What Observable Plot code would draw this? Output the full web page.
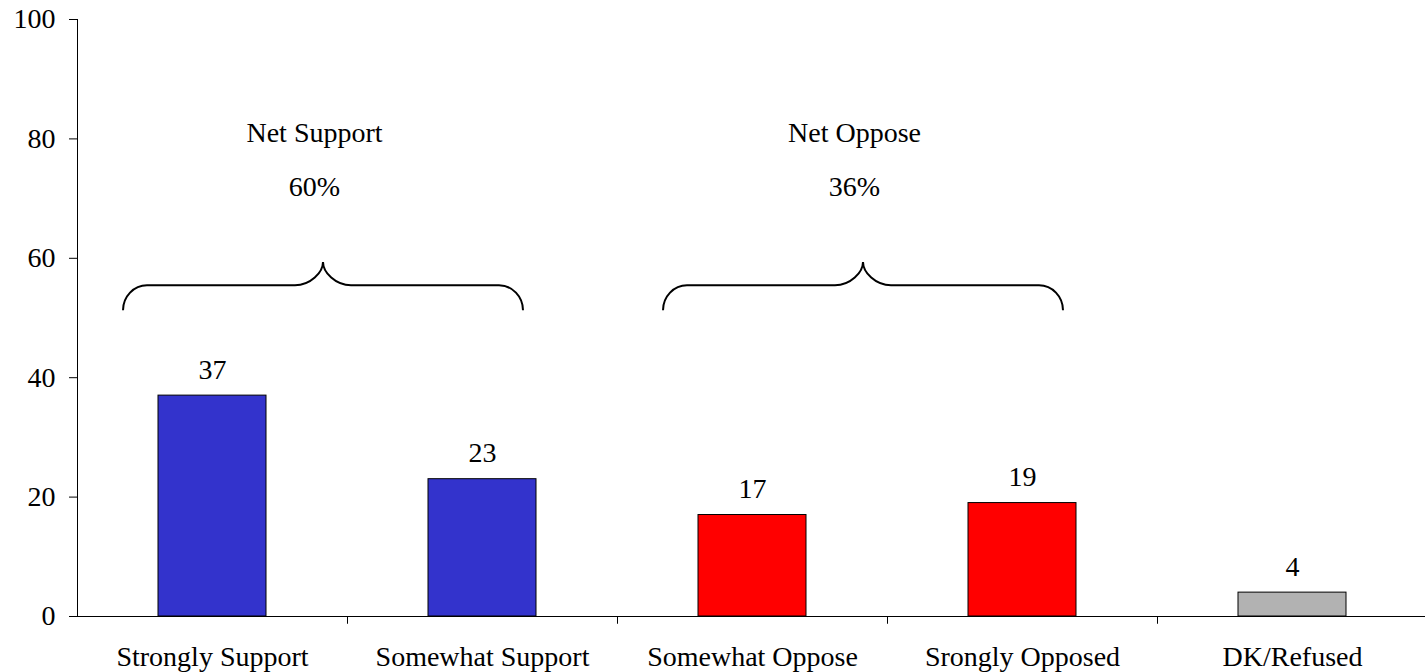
<!DOCTYPE html>
<html><head><meta charset="utf-8">
<script src="https://cdn.jsdelivr.net/npm/d3@7"></script>
<script src="https://cdn.jsdelivr.net/npm/@observablehq/plot@0.6"></script>
<style>html,body{margin:0;padding:0;background:#fff} svg{display:block}</style>
</head><body><div id="chart"></div>
<script>
const categories = ["Strongly Support","Somewhat Support","Somewhat Oppose","Srongly Opposed","DK/Refused"];
const values = [37, 23, 17, 19, 4];
const colors = ["#3333CC","#3333CC","#FF0000","#FF0000","#B2B2B2"];
const groupLabels = ["Net Support","Net Oppose"];
const groupTotals = ["60%","36%"];
const groupFrom = ["Strongly Support","Somewhat Oppose"];
const groupTo = ["Somewhat Support","Srongly Opposed"];
const yTicks = [0, 20, 40, 60, 80, 100];

const data = categories.map((c, i) => ({category: c, value: values[i]}));
const groups = groupLabels.map((g, i) => ({label: g, total: groupTotals[i], from: groupFrom[i], to: groupTo[i]}));

function braces(index, scales, values, dims) {
  const g = d3.create("svg:g");
  const x = scales.x, y = scales.y, bw = x.bandwidth();
  const yb = y(51.2), yh = y(55.4), yp = y(59.3);
  const k = 0.55;
  for (const d of groups) {
    const xa = x(d.from) + bw / 2, xb = x(d.to) + bw / 2;
    const P = (xa + xb) / 2 - 24;
    const L = P - 200, R = P + 200, r1 = 24, r2 = 28;
    const path = `M${L},${yb} C${L},${yb - k*(yb-yh)} ${L + r1 - k*r1},${yh} ${L + r1},${yh}`
      + ` L${P - r2},${yh} C${P - r2 + k*r2},${yh} ${P},${yh - k*(yh-yp)} ${P},${yp}`
      + ` C${P},${yh - k*(yh-yp)} ${P + r2 - k*r2},${yh} ${P + r2},${yh}`
      + ` L${R - r1},${yh} C${R - r1 + k*r1},${yh} ${R},${yb - k*(yb-yh)} ${R},${yb}`;
    g.append("path").attr("d", path).attr("fill", "none").attr("stroke", "#000").attr("stroke-width", 2);
  }
  return g.node();
}

const plot = Plot.plot({
  width: 1425,
  height: 672,
  marginLeft: 77,
  marginRight: 0,
  marginTop: 19,
  marginBottom: 56,
  style: {fontFamily: '"Liberation Serif","Times New Roman",serif', fontSize: "28px", color: "#000", background: "#fff", overflow: "visible"},
  x: {domain: categories, range: [77, 1427], paddingInner: 0.6, paddingOuter: 0.3, axis: null},
  y: {domain: [0, 100], axis: null},
  color: {domain: categories, range: colors},
  marks: [
    Plot.barY(data, {x: "category", y: "value", fill: "category", stroke: "#000", strokeWidth: 1}),
    Plot.frame({anchor: "left", stroke: "#000"}),
    Plot.frame({anchor: "bottom", stroke: "#000"}),
    Plot.axisY({ticks: yTicks, tickSize: 8, tickPadding: 14, fontSize: 28, stroke: "#000", label: null}),
    Plot.ruleX(categories.slice(1), {x: d => d, y1: 0, y2: -1.3, dx: -135, stroke: "#000"}),
    Plot.text(data, {x: "category", y: 0, text: "category", dy: 41, fontSize: 28}),
    Plot.text(data, {x: "category", y: "value", text: d => String(d.value), dy: -26, fontSize: 28}),
    Plot.text(groups, {x: "from", y: 81, dx: 102, text: "label", fontSize: 28}),
    Plot.text(groups, {x: "from", y: 72, dx: 102, text: "total", fontSize: 28}),
    braces
  ]
});
document.getElementById("chart").appendChild(plot);
</script>
</body></html>
